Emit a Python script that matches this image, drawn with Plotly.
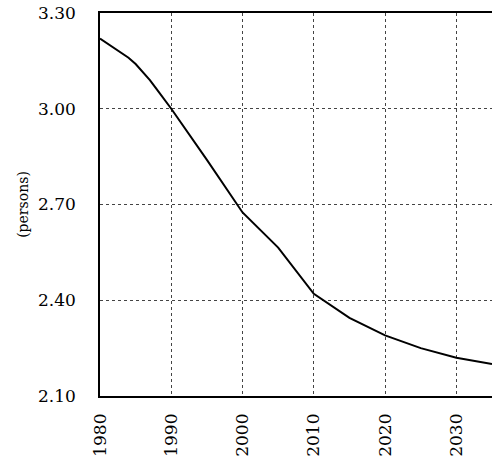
import plotly.graph_objects as go

years = [1980, 1981, 1982, 1983, 1984, 1985, 1986, 1987, 1988, 1989, 1990,
         1995, 2000, 2005, 2010, 2015, 2020, 2025, 2030, 2035]
persons = [3.22, 3.205, 3.19, 3.175, 3.16, 3.14, 3.115, 3.09, 3.06, 3.03, 3.00,
           2.84, 2.675, 2.565, 2.42, 2.345, 2.29, 2.25, 2.22, 2.20]

y_ticks = [2.10, 2.40, 2.70, 3.00, 3.30]
x_ticks = [1980, 1990, 2000, 2010, 2020, 2030]

font_family = "DejaVu Serif"

fig = go.Figure()
fig.add_trace(go.Scatter(x=years, y=persons, mode="lines",
                         line=dict(color="black", width=2), showlegend=False))

fig.update_layout(
    width=492, height=459,
    margin=dict(l=100, r=0, t=13, b=63),
    paper_bgcolor="white", plot_bgcolor="white",
    font=dict(family=font_family, size=17, color="black"),
    xaxis=dict(range=[1980, 2035], tickvals=x_ticks, tickangle=-90,
               showgrid=True, gridcolor="#444", griddash="dot", gridwidth=1,
               showline=True, linecolor="black", linewidth=1.5, mirror=True,
               ticks="", ticklabelstandoff=9, ticklabeloverflow="allow",
               zeroline=False),
    yaxis=dict(range=[2.10, 3.30], tickvals=y_ticks, tickformat=".2f",
               showgrid=True, gridcolor="#444", griddash="dot", gridwidth=1,
               showline=True, linecolor="black", linewidth=1.5, mirror=False,
               ticks="", ticklabelstandoff=19, ticklabeloverflow="allow",
               zeroline=False,
               title=dict(text="(persons)", font=dict(size=14), standoff=6)),
)

fig.write_html(
    "out.html",
    config={"displayModeBar": False},
    post_script="document.body.style.margin='0';document.body.style.overflow='hidden';",
)
